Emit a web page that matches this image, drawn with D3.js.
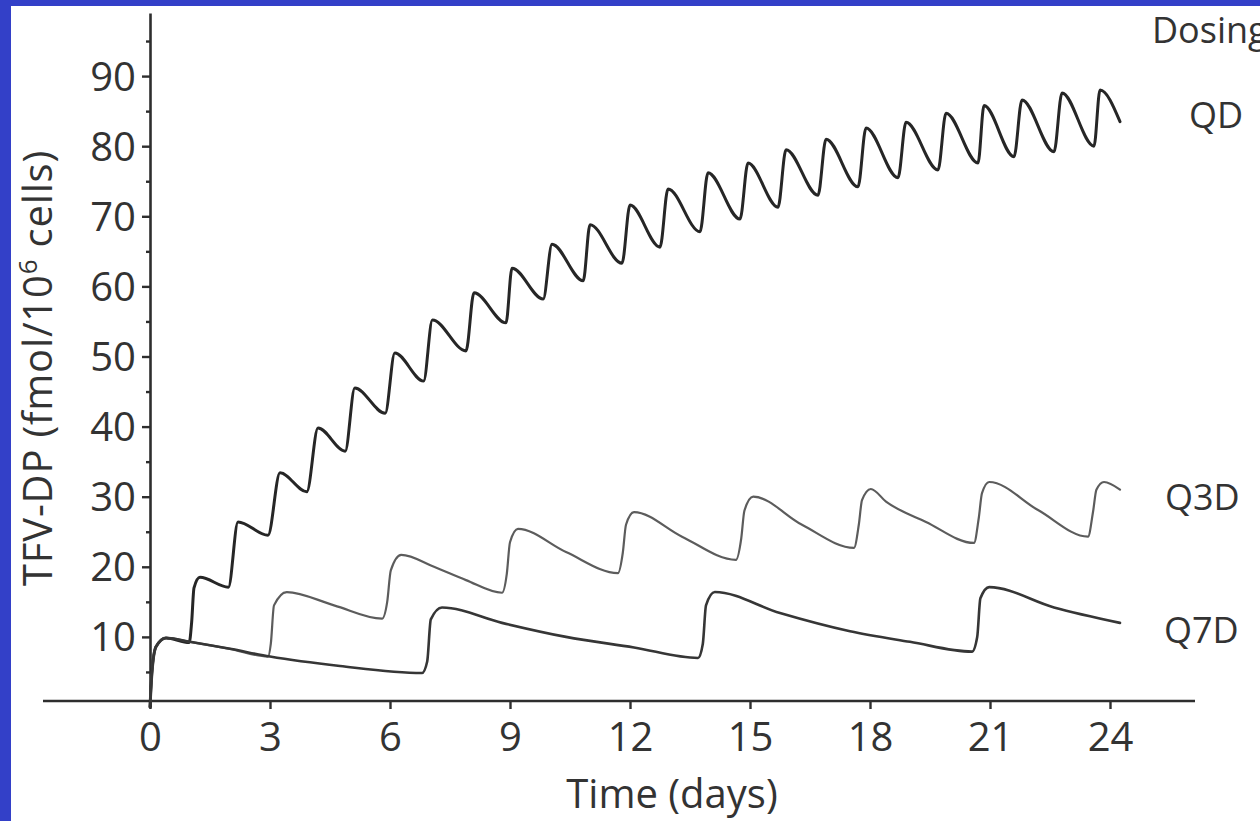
<!DOCTYPE html>
<html>
<head>
<meta charset="utf-8">
<script src="https://cdn.jsdelivr.net/npm/d3@7"></script>
<style>
  html, body { margin: 0; padding: 0; background: #fff; }
  body { width: 1260px; height: 821px; overflow: hidden; }
  svg text { font-family: 'Open Sans', 'Noto Sans', sans-serif; fill: #333; }
</style>
</head>
<body>
<script>
var width  = 1260
var height = 821

// tick labels
var xTicks = [0, 3, 6, 9, 12, 15, 18, 21, 24]
var yTicks = [10, 20, 30, 40, 50, 60, 70, 80, 90]
var yMinorTicks = [5, 15, 25, 35, 45, 55, 65, 75, 85, 95]

var seriesNames = ['QD', 'Q3D', 'Q7D']

// [day, TFV-DP]
var qdPoints = [
  [0, 0], [0.05, 5], [0.15, 8.6], [0.4, 9.85], [0.98, 9.2],
  [1.04, 12], [1.1, 17], [1.25, 18.5], [1.96, 17.1],
  [2.2, 26.4], [2.95, 24.5], [3.25, 33.4], [3.92, 30.7],
  [4.2, 39.8], [4.88, 36.5], [5.12, 45.5], [5.88, 41.9],
  [6.12, 50.5], [6.84, 46.5], [7.06, 55.2], [7.9, 50.8],
  [8.1, 59.1], [8.9, 54.8], [9.05, 62.6], [9.83, 58.2],
  [10.05, 66.0], [10.83, 60.8], [11.0, 68.8], [11.8, 63.3],
  [12.0, 71.6], [12.75, 65.6], [12.95, 73.9], [13.75, 67.8],
  [13.95, 76.2], [14.75, 69.6], [14.95, 77.6], [15.7, 71.3],
  [15.9, 79.5], [16.7, 73.0], [16.9, 81.0], [17.7, 74.2],
  [17.9, 82.6], [18.7, 75.5], [18.9, 83.4], [19.7, 76.6],
  [19.9, 84.7], [20.7, 77.6], [20.85, 85.8], [21.6, 78.5],
  [21.8, 86.6], [22.6, 79.2], [22.8, 87.6], [23.6, 80.0],
  [23.75, 88.0], [24.25, 83.5]
]

var q3dPoints = [
  [0, 0], [0.05, 5], [0.15, 8.6], [0.4, 9.85], [1, 9.3], [2, 8.3], [2.95, 7.2],
  [3.02, 9], [3.1, 14.5], [3.42, 16.4], [4.6, 14.5], [5.8, 12.6],
  [5.93, 15], [6.02, 19.5], [6.28, 21.7], [7.1, 20.0], [7.9, 18.1], [8.8, 16.3],
  [8.92, 19], [9.0, 23.5], [9.2, 25.4], [10.4, 22.1], [11.7, 19.1],
  [11.82, 22], [11.9, 26], [12.1, 27.8], [13.3, 24.3], [14.65, 21.0],
  [14.78, 24], [14.86, 28], [15.08, 30.0], [16.3, 26.0], [17.6, 22.7],
  [17.72, 26], [17.8, 29.5], [18.02, 31.1], [18.4, 29.3], [19.4, 26.4], [20.6, 23.4],
  [20.72, 27], [20.8, 30.5], [20.98, 32.1], [22.2, 28.1], [23.45, 24.3],
  [23.58, 28], [23.66, 31], [23.85, 32.1], [24.25, 31.0]
]

var q7dPoints = [
  [0, 0], [0.05, 5], [0.15, 8.6], [0.4, 9.85], [1, 9.3], [2, 8.3], [3, 7.2],
  [4.75, 5.85], [6.8, 4.85],
  [6.93, 6.5], [7.02, 12.5], [7.3, 14.2], [8.8, 12.0], [10.4, 10.0], [12.1, 8.5], [13.7, 7.0],
  [13.82, 9], [13.9, 14.5], [14.12, 16.4], [15.75, 13.4], [17.5, 10.8], [19.0, 9.3], [20.55, 7.9],
  [20.68, 10], [20.76, 15.5], [20.98, 17.1], [22.6, 14.2], [24.25, 12.0]
]

var seriesPoints = [qdPoints, q3dPoints, q7dPoints]

var lineStyle = {
  QD:  { stroke: '#262626', width: 3.0, label: [1189, 128] },
  Q3D: { stroke: '#5c5c5c', width: 2.2, label: [1165, 510] },
  Q7D: { stroke: '#363636', width: 2.6, label: [1164, 643] }
}

var svg = d3.select('body')
  .append('svg')
  .attr('width', width)
  .attr('height', height)

// blue frame
svg.append('rect').attr('width', width).attr('height', height).attr('fill', '#3340c8')
svg.append('rect').attr('x', 11).attr('y', 6).attr('width', width - 11).attr('height', height - 6).attr('fill', '#fff')

var xScale = d3.scaleLinear()
  .domain([0, 24])
  .range([150, 1110])

var yScale = d3.scaleLinear()
  .domain([0, 99])
  .range([707, 13])

var axisY0 = 701

// x axis
var xAxis = d3.axisBottom(xScale)
  .tickValues(xTicks)
  .tickSize(8)
  .tickPadding(13)

var gx = svg.append('g')
  .attr('transform', 'translate(0,' + axisY0 + ')')
  .call(xAxis)
gx.select('.domain').remove()
gx.append('line')
  .attr('x1', 43).attr('x2', 1195)
  .attr('stroke', '#2e2e2e').attr('stroke-width', 2.6)
gx.selectAll('.tick line').attr('stroke', '#2e2e2e').attr('stroke-width', 2.4)
gx.selectAll('.tick text')
  .attr('font-size', 40)
  .attr('fill', '#333')
  .attr('dy', '0.72em')

// y axis
var yAxis = d3.axisLeft(yScale)
  .tickValues(yTicks)
  .tickSize(8)
  .tickPadding(6)
  .tickSizeOuter(0)

var gy = svg.append('g')
  .attr('transform', 'translate(' + xScale(0) + ',0)')
  .call(yAxis)
gy.select('.domain').attr('stroke', '#2e2e2e').attr('stroke-width', 2.6)
gy.selectAll('.tick line').attr('stroke', '#2e2e2e').attr('stroke-width', 2.4)
gy.selectAll('.tick text')
  .attr('font-size', 40)
  .attr('fill', '#333')
  .attr('dy', '0.35em')

var yMinor = d3.axisLeft(yScale)
  .tickValues(yMinorTicks)
  .tickSize(4)
  .tickFormat('')

var gym = svg.append('g')
  .attr('transform', 'translate(' + xScale(0) + ',0)')
  .call(yMinor)
gym.select('.domain').remove()
gym.selectAll('.tick line').attr('stroke', '#2e2e2e').attr('stroke-width', 2.4)

// curves
var line = d3.line()
  .x(d => xScale(d[0]))
  .y(d => yScale(d[1]))
  .curve(d3.curveMonotoneX)

seriesNames.forEach((name, i) => {
  var st = lineStyle[name]
  svg.append('path')
    .datum(seriesPoints[i])
    .attr('d', line)
    .attr('fill', 'none')
    .attr('stroke', st.stroke)
    .attr('stroke-width', st.width)
    .attr('stroke-linejoin', 'round')
    .attr('stroke-linecap', 'round')

  svg.append('text')
    .attr('x', st.label[0])
    .attr('y', st.label[1])
    .attr('font-size', 36)
    .text(name)
})

svg.append('text')
  .attr('x', 1152)
  .attr('y', 43)
  .attr('font-size', 36)
  .text('Dosing')

// axis titles
svg.append('text')
  .attr('x', 672)
  .attr('y', 808)
  .attr('text-anchor', 'middle')
  .attr('font-size', 40)
  .text('Time (days)')

var yTitle = svg.append('text')
  .attr('transform', 'translate(52,368) rotate(-90)')
  .attr('text-anchor', 'middle')
  .attr('font-size', 40)
  .attr('letter-spacing', 0.8)
yTitle.append('tspan').text('TFV-DP (fmol/10')
yTitle.append('tspan').attr('font-size', 26).attr('dy', -15).text('6')
yTitle.append('tspan').attr('dy', 15).text(' cells)')
</script>
</body>
</html>
